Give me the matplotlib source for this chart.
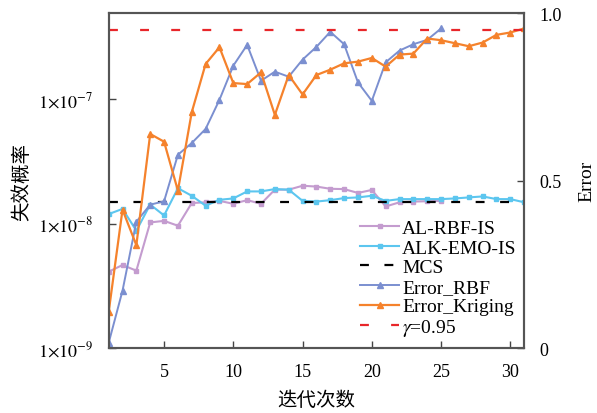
import matplotlib
matplotlib.use("Agg")
import matplotlib.pyplot as plt
from matplotlib.ticker import FixedLocator, NullLocator

plt.rcParams['font.family'] = ['Liberation Serif', 'Noto Sans CJK SC', 'DejaVu Sans']
plt.rcParams['mathtext.fontset'] = 'stix'

# ---- data ----
iters = list(range(1, 32))
al_rbf_is = [4.1e-9, 4.64e-9, 4.18e-9, 1.02e-8, 1.05e-8, 9.6e-9, 1.46e-8, 1.48e-8, 1.52e-8,
             1.44e-8, 1.54e-8, 1.44e-8, 1.87e-8, 1.87e-8, 2.01e-8, 1.98e-8, 1.90e-8, 1.89e-8,
             1.76e-8, 1.86e-8, 1.37e-8, 1.48e-8, 1.50e-8, 1.51e-8, 1.52e-8]
alk_emo_is = [1.19e-8, 1.31e-8, 8.76e-9, 1.42e-8, 1.16e-8, 1.92e-8, 1.67e-8, 1.39e-8, 1.55e-8,
              1.59e-8, 1.81e-8, 1.81e-8, 1.89e-8, 1.87e-8, 1.52e-8, 1.50e-8, 1.54e-8, 1.60e-8,
              1.62e-8, 1.67e-8, 1.52e-8, 1.57e-8, 1.57e-8, 1.57e-8, 1.57e-8, 1.59e-8, 1.62e-8,
              1.65e-8, 1.57e-8, 1.57e-8, 1.48e-8]
mcs = 1.5e-8
error_rbf = [0.015, 0.171, 0.377, 0.428, 0.438, 0.577, 0.612, 0.654, 0.741, 0.843, 0.905, 0.798,
             0.825, 0.810, 0.861, 0.899, 0.944, 0.907, 0.793, 0.738, 0.853, 0.888, 0.907, 0.920,
             0.954]
error_kriging = [0.107, 0.413, 0.307, 0.639, 0.616, 0.470, 0.704, 0.848, 0.898, 0.791, 0.788,
                 0.823, 0.696, 0.815, 0.757, 0.815, 0.831, 0.850, 0.855, 0.866, 0.840, 0.876,
                 0.879, 0.924, 0.919, 0.910, 0.901, 0.912, 0.935, 0.942, 0.954]
gamma = 0.95
xticks = [5, 10, 15, 20, 25, 30]
left_ticks = [1e-9, 1e-8, 1e-7]
left_labels = [r'$1{\times}10^{-9}$', r'$1{\times}10^{-8}$', r'$1{\times}10^{-7}$']
right_ticks = [0, 0.5, 1.0]
right_labels = ['0', '0.5', '1.0']

c_purple = '#c49ccf'
c_cyan = '#5cc6ef'
c_blue = '#7b8fd0'
c_orange = '#f5822c'
c_red = '#e8262a'

fig = plt.figure(figsize=(5.97, 4.14), dpi=100)
ax = fig.add_axes([0.182, 0.157, 0.696, 0.809])
ax2 = ax.twinx()

fs = 13
ax.plot(iters[:len(al_rbf_is)], al_rbf_is, color=c_purple, lw=1.5, marker='s', ms=3.5,
        label='AL-RBF-IS')
ax.plot(iters[:len(alk_emo_is)], alk_emo_is, color=c_cyan, lw=1.5, marker='s', ms=3.5,
        label='ALK-EMO-IS')
ax.axhline(mcs, color='black', lw=1.6, dashes=(4, 7), label='MCS')

ax2.plot(iters[:len(error_rbf)], error_rbf, color=c_blue, lw=1.4, marker='^', ms=4.5,
         label='Error_RBF')
ax2.plot(iters[:len(error_kriging)], error_kriging, color=c_orange, lw=1.6, marker='^', ms=4.5,
         label='Error_Kriging')
ax2.axhline(gamma, color=c_red, lw=1.6, dashes=(4, 10), label=r'$\gamma$=0.95')

ax.set_yscale('log')
ax.set_ylim(1e-9, 4.9e-7)
ax.set_xlim(1, 31)
ax2.set_ylim(0, 1.0)

ax.yaxis.set_major_locator(FixedLocator(left_ticks))
ax.yaxis.set_minor_locator(NullLocator())
ax.set_yticklabels(left_labels)
ax.set_xticks(xticks)
ax2.set_yticks(right_ticks)
ax2.set_yticklabels(right_labels)

for a in (ax, ax2):
    a.tick_params(direction='in', length=5, width=1, labelsize=fs, pad=11, color='#444444')
    for s in a.spines.values():
        s.set_color('#555555')
        s.set_linewidth(1.5)

ax.set_xlabel('迭代次数', fontsize=14, family=['Noto Sans CJK SC'], labelpad=6)
ax.set_ylabel('失效概率', fontsize=14, family=['Noto Sans CJK SC'], labelpad=4)
ax2.set_ylabel('Error', fontsize=14, labelpad=12)

h1, l1 = ax.get_legend_handles_labels()
h2, l2 = ax2.get_legend_handles_labels()
leg = ax2.legend(h1 + h2, l1 + l2, loc='lower right', bbox_to_anchor=(1.005, 0.0),
                 frameon=False, fontsize=14, handlelength=2.0, handletextpad=0.15,
                 labelspacing=0.1, borderpad=0.0)

fig.savefig('out.png', dpi=100)
